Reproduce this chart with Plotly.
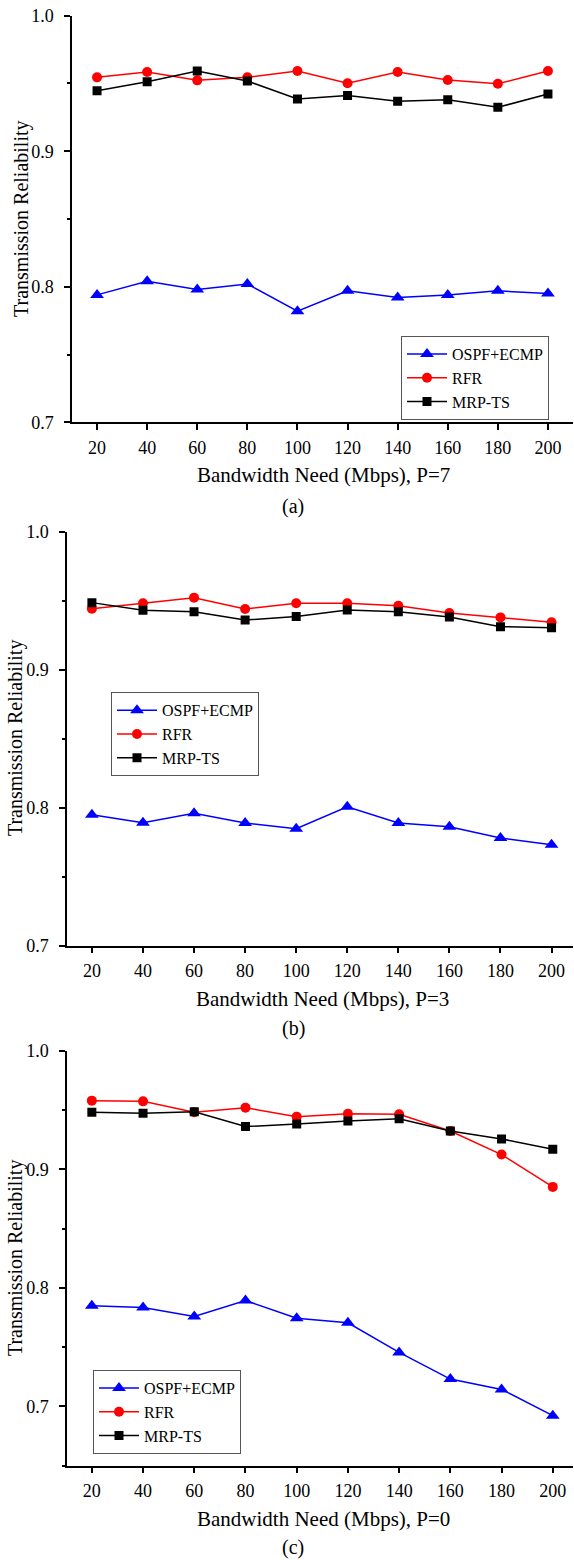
import plotly.graph_objects as go

# ---------------- data ----------------
bandwidth = [20, 40, 60, 80, 100, 120, 140, 160, 180, 200]
series_names = ["OSPF+ECMP", "RFR", "MRP-TS"]

# panel (a) P=7
a_ospf = [0.794, 0.804, 0.798, 0.802, 0.782, 0.797, 0.792, 0.794, 0.797, 0.795]
a_rfr = [0.9545, 0.9584, 0.9523, 0.9545, 0.9592, 0.9501, 0.9584, 0.9525, 0.9498, 0.9592]
a_mrp = [0.9447, 0.9513, 0.9592, 0.9518, 0.9385, 0.9412, 0.9368, 0.9380, 0.9324, 0.9422]

# panel (b) P=3
b_ospf = [0.7949, 0.7891, 0.7959, 0.7889, 0.7848, 0.8007, 0.7889, 0.7862, 0.7780, 0.7732]
b_rfr = [0.9442, 0.9481, 0.9522, 0.9440, 0.9481, 0.9481, 0.9464, 0.9411, 0.9379, 0.9343]
b_mrp = [0.9486, 0.9430, 0.9420, 0.9360, 0.9386, 0.9432, 0.9420, 0.9382, 0.9312, 0.9304]

# panel (c) P=0
c_ospf = [0.7849, 0.7835, 0.7759, 0.7894, 0.7745, 0.7706, 0.7456, 0.7231, 0.7144, 0.6922]
c_rfr = [0.9581, 0.9575, 0.9483, 0.9522, 0.9446, 0.9471, 0.9466, 0.9325, 0.9126, 0.8853]
c_mrp = [0.9483, 0.9474, 0.9488, 0.9362, 0.9384, 0.9410, 0.9429, 0.9325, 0.9258, 0.9171]

x_titles = ["Bandwidth Need (Mbps), P=7", "Bandwidth Need (Mbps), P=3", "Bandwidth Need (Mbps), P=0"]
captions = ["(a)", "(b)", "(c)"]
y_title = "Transmission Reliability"
x_ticks = [20, 40, 60, 80, 100, 120, 140, 160, 180, 200]
y_ticks = [0.7, 0.8, 0.9, 1.0]
# ---------------------------------------

W, H = 574, 1560
FONT = "Liberation Serif"
colors = ["#0000FF", "#FF0000", "#000000"]
symbols = ["triangle-up", "circle", "square"]
msizes = [12, 10, 9]

panels = [
    dict(data=[a_ospf, a_rfr, a_mrp], top=15.7, bot=422.3, left=72, xr=[10, 210], yr=[0.7, 1.0],
         legend=(401, 336), xt=(323, 475), cap=(293, 506.7), yt=(22, 219)),
    dict(data=[b_ospf, b_rfr, b_mrp], top=531.7, bot=945.7, left=67, xr=[10.25, 208.4], yr=[0.7, 1.0],
         legend=(111, 692.3), xt=(322, 999), cap=(293, 1028.3), yt=(15.6, 737.5)),
    dict(data=[c_ospf, c_rfr, c_mrp], top=1051, bot=1465.7, left=67, xr=[10.3, 207.9], yr=[0.65, 1.0],
         legend=(93, 1370), xt=(323, 1519), cap=(293, 1547.3), yt=(15.6, 1257.5)),
]

fig = go.Figure()
layout = dict(width=W, height=H, margin=dict(l=0, r=0, t=0, b=0, autoexpand=False),
              paper_bgcolor="white", plot_bgcolor="white",
              font=dict(family=FONT, color="black"), annotations=[])

for i, p in enumerate(panels):
    n = "" if i == 0 else str(i + 1)
    leg = "legend" if i == 0 else "legend" + str(i + 1)
    for k in range(3):
        fig.add_trace(go.Scatter(
            x=bandwidth, y=p["data"][k], name=series_names[k], mode="lines+markers",
            line=dict(color=colors[k], width=1.5),
            marker=dict(symbol=symbols[k], size=msizes[k], color=colors[k]),
            xaxis="x" + n, yaxis="y" + n, legend=leg))
    axis_common = dict(showline=True, linecolor="black", linewidth=1.5, ticks="outside",
                       ticklen=6, tickwidth=1.5, tickcolor="black", showgrid=False,
                       zeroline=False, mirror=False, automargin=False,
                       tickfont=dict(family=FONT, size=18, color="black"))
    layout["xaxis" + n] = dict(axis_common, domain=[p["left"] / W, 573 / W], range=p["xr"],
                               tickvals=x_ticks, anchor="y" + n, ticklabelstandoff=2)
    layout["yaxis" + n] = dict(axis_common, domain=[1 - p["bot"] / H, 1 - p["top"] / H],
                               range=p["yr"], tickvals=y_ticks, tickformat=".1f",
                               anchor="x" + n, ticklabelstandoff=7,
                               minor=dict(tickvals=[0.65, 0.75, 0.85, 0.95], ticks="outside",
                                          ticklen=3, tickwidth=1.5, tickcolor="black",
                                          showgrid=False))
    lx, ly = p["legend"]
    layout[leg] = dict(x=lx / W, y=1 - ly / H, xanchor="left", yanchor="top",
                       bordercolor="#555555", borderwidth=1, bgcolor="white",
                       font=dict(family=FONT, size=16, color="black"),
                       itemwidth=40, tracegroupgap=0)
    layout["annotations"] += [
        dict(text=x_titles[i], x=p["xt"][0] / W, y=1 - p["xt"][1] / H, xref="paper", yref="paper",
             xanchor="center", yanchor="middle", showarrow=False,
             font=dict(family=FONT, size=21, color="black")),
        dict(text=captions[i], x=p["cap"][0] / W, y=1 - p["cap"][1] / H, xref="paper", yref="paper",
             xanchor="center", yanchor="middle", showarrow=False,
             font=dict(family=FONT, size=20, color="black")),
        dict(text=y_title, x=p["yt"][0] / W, y=1 - p["yt"][1] / H, xref="paper", yref="paper",
             xanchor="center", yanchor="middle", showarrow=False, textangle=-90,
             font=dict(family=FONT, size=20, color="black")),
    ]

fig.update_layout(**layout)
fig.write_html("out.html", config={"displayModeBar": False},
               post_script="document.body.style.margin='0px';document.body.style.padding='0px';")
